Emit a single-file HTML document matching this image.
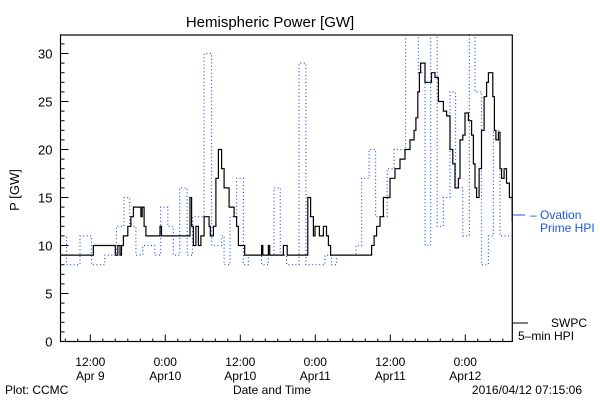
<!DOCTYPE html>
<html><head><meta charset="utf-8"><style>
body{margin:0;background:#fff;}
svg{display:block;font-family:"Liberation Sans",sans-serif;}
</style></head><body>
<svg id="chart" width="600" height="400" viewBox="0 0 600 400" xmlns="http://www.w3.org/2000/svg">
<rect width="600" height="400" fill="#fff"/>
<text x="270" y="27" font-size="15" text-anchor="middle">Hemispheric Power [GW]</text>
<text x="0" y="0" font-size="13" text-anchor="middle" transform="translate(19,190) rotate(-90)">P [GW]</text>
<g id="axes"></g>
<g id="series"></g>
<rect x="60.5" y="35" width="451.8" height="306.5" fill="none" stroke="#000" stroke-width="1.2"/>
<line x1="513" y1="215" x2="525" y2="215" stroke="#1a56e8" stroke-width="1"/>
<text x="530" y="219" font-size="12" fill="#1a56e8">– Ovation</text>
<text x="540" y="232" font-size="12" fill="#1a56e8">Prime HPI</text>
<line x1="513" y1="323" x2="528" y2="323" stroke="#000" stroke-width="1"/>
<text x="551" y="327" font-size="12">SWPC</text>
<text x="518" y="340" font-size="12">5–min HPI</text>
<text x="272" y="394" font-size="12" text-anchor="middle">Date and Time</text>
<text x="5" y="394" font-size="12">Plot: CCMC</text>
<text x="582" y="394" font-size="12" text-anchor="end">2016/04/12 07:15:06</text>
</svg>
<script>
// hours since 2016-04-09 00:00
const blueTimes=[7.2,8.2,10.35,12.2,14.3,16.2,17.4,18.3,19.3,20.4,22.3,23.25,24.4,25.3,26.3,27.5,28.35,30.2,31.4,33.0,33.4,34.35,35.4,36.5,37.3,39.4,40.5,41.4,42.4,43.4,45.4,46.5,49.55,50.6,51.4,54.5,55.4,56.6,57.65,59.5,60.6,62.45,64.5,65.55,66.45,67.5,68.5,69.55,70.45,71.6,72.65,73.55,74.6,75.7,76.5,77.55,79.5];
const blueValues=[11,8,11,8,9,12,15,12,9,10,9,14,12,9,16,9,13,30,10,11,8,13,17,8,9,8,9,16,9,8,29,8,9,8,9,10,17,20,13,18,20,33,28,10,33,12,15,26,16,11,33,26,8,11,22,11,11];
const blackTimes=[7.2,12.5,12.5,15.84,16.0,16.4,16.75,17.0,17.3,18.0,18.5,18.9,19.95,20.1,20.3,20.6,20.9,21.4,23.15,23.4,24.2,27.15,27.95,28.2,28.5,28.9,29.3,29.7,30.2,31.0,31.2,31.7,32.1,32.5,33.0,33.4,33.8,34.2,34.6,35.0,35.4,35.7,36.5,36.7,39.4,39.6,40.5,40.7,42.9,43.0,43.5,43.6,46.6,46.8,47.1,47.25,47.7,47.95,48.65,49.3,49.8,50.1,50.45,56.1,57.0,57.4,57.8,58.35,58.9,59.95,60.75,61.55,62.35,63.15,63.8,64.1,64.4,64.65,64.85,65.55,66.6,66.9,67.15,67.7,68.5,69.0,69.55,70.0,70.35,70.9,71.15,71.6,71.95,72.5,73.0,73.3,73.55,73.8,74.2,74.6,75.0,75.4,75.7,76.05,76.4,76.65,76.9,77.3,77.55,77.8,78.2,78.6,79.05,79.5];
const blackValues=[9,9,10,10,9,10,9,10,11,12,13,14,14,13,14,12,11,11,12,11,11,11,15,12,10,12,10,11,13,12,11,12,17,20,18,16,16,14,14,13,12,10,10,9,10,9,10,9,10,10,9,9,9,15,15,13,11,12,11,12,11,10,9,9,10,11,12,13,15,17,18,19,20,21,22,23.3,26,28,29,27,28,28,27.5,25,24,23.5,20,18.5,16,17,21,21.5,23.8,23,21.5,18.5,16,15,18,22,25.5,27,28,28,25.5,22,21,21.8,18,17,18,16.5,15,12.5,12];
const yTicks=[0,5,10,15,20,25,30];
const xTickHours=[12,24,36,48,60,72];
const xTickLine1=["12:00","0:00","12:00","0:00","12:00","0:00"];
const xTickLine2=["Apr 9","Apr10","Apr10","Apr11","Apr11","Apr12"];

const X0=60.5,X1=512.3,Y0=341.5,YT=35;
const xs=h=>90.3+(h-12)*6.25;
const ys=v=>Y0-v*9.6;
const NS="http://www.w3.org/2000/svg";
const axes=document.getElementById('axes'), series=document.getElementById('series');
function mk(tag,attrs,parent){const e=document.createElementNS(NS,tag);for(const k in attrs)e.setAttribute(k,attrs[k]);parent.appendChild(e);return e;}

for(let v=0;v<=31;v++){
  const t=mk('line',{x1:X0,x2:X0+(v%5===0?8:4),y1:ys(v),y2:ys(v),stroke:'#000','stroke-width':1},axes);
  
  
}
yTicks.forEach(v=>{
  const t=mk('text',{x:X0-8,y:ys(v)+5,'font-size':13,'text-anchor':'end'},axes);
  t.textContent=v;
  
  
});
for(let h=8;h<=79;h+=2){
  const maj=(h%12===0);
  const t=mk('line',{x1:xs(h),x2:xs(h),y1:Y0,y2:Y0-(maj?7:3),stroke:'#000','stroke-width':1},axes);
  
  
}
xTickHours.forEach((h,i)=>{
  const a=mk('text',{x:xs(h),y:366,'font-size':12,'text-anchor':'middle'},axes);
  a.textContent=xTickLine1[i];
  
  
  const b=mk('text',{x:xs(h),y:380,'font-size':12,'text-anchor':'middle'},axes);
  b.textContent=xTickLine2[i];
  
  
});
mk('clipPath',{id:'clip'},series);
mk('rect',{x:X0,y:YT,width:X1-X0,height:Y0-YT},series.lastChild);
// blue step series
let d='';
for(let i=0;i<blueTimes.length-1;i++){
  const v=Math.min(blueValues[i],32.2);
  d+=(i===0?'M':'L')+xs(blueTimes[i]).toFixed(1)+','+ys(v).toFixed(1)+'L'+xs(blueTimes[i+1]).toFixed(1)+','+ys(v).toFixed(1);
}
const bp=mk('path',{d:d,fill:'none',stroke:'#1a56e8','stroke-width':1.2,'stroke-dasharray':'1 2.5','clip-path':'url(#clip)'},series);


// black step series
let k='';
for(let i=0;i<blackTimes.length;i++){
  const x=xs(blackTimes[i]).toFixed(1), y=ys(blackValues[i]).toFixed(1);
  if(i===0){k+='M'+x+','+y;}
  else{k+='L'+x+','+ys(blackValues[i-1]).toFixed(1)+'L'+x+','+y;}
}
const kp=mk('path',{d:k,fill:'none',stroke:'#000','stroke-width':1.2,'clip-path':'url(#clip)'},series);


</script>
</body></html>
